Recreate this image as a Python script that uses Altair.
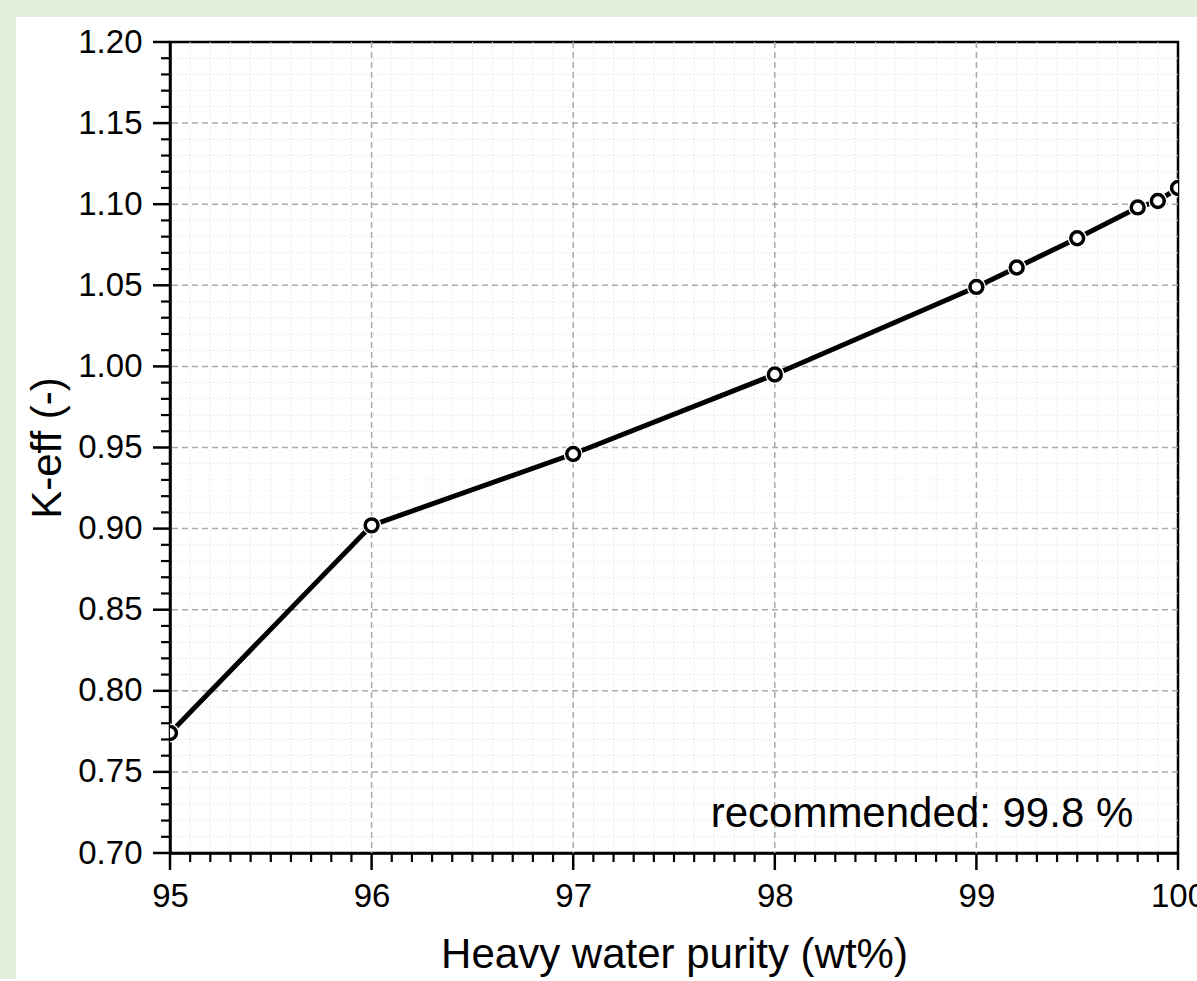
import altair as alt
import pandas as pd

# ---- data ----
purity = [95, 96, 97, 98, 99, 99.2, 99.5, 99.8, 99.9, 100]
keff = [0.774, 0.902, 0.946, 0.995, 1.049, 1.061, 1.079, 1.098, 1.102, 1.110]

x_major = [95, 96, 97, 98, 99, 100]
y_major = [0.70, 0.75, 0.80, 0.85, 0.90, 0.95, 1.00, 1.05, 1.10, 1.15, 1.20]
x_grid = [96, 97, 98, 99]
y_grid = [0.75, 0.80, 0.85, 0.90, 0.95, 1.00, 1.05, 1.10, 1.15]
x_minor = [round(95 + i * 0.1, 2) for i in range(1, 50) if i % 10 != 0]
y_minor = [round(0.70 + i * 0.01, 3) for i in range(1, 50) if i % 5 != 0]

note_text = ["recommended: 99.8 %"]
note_x = [98.73]
note_y = [0.716]

FONT = "Liberation Sans"
W, H = 1008, 811
PL, PT, PR, PB = 170, 42, 19, 126
GREEN = "#e2efda"

xs = alt.Scale(domain=[95, 100], nice=False, zero=False)
ys = alt.Scale(domain=[0.7, 1.2], nice=False, zero=False)

x_axis = alt.Axis(
    values=x_major,
    format="d",
    title="Heavy water purity (wt%)",
    titleY=114,
    titleBaseline="alphabetic",
    ticks=False,
    tickSize=0,
    labelPadding=27,
    labelFlush=False,
)
y_axis = alt.Axis(
    values=y_major,
    format=".2f",
    title="K-eff (-)",
    titleX=-110,
    titleBaseline="alphabetic",
    ticks=False,
    tickSize=0,
    labelPadding=28,
    labelFlush=False,
)

df = pd.DataFrame({"purity": purity, "keff": keff})
one = pd.DataFrame({"a": [0]})

# decorative green frame (outside plot area)
left_strip = alt.Chart(one).mark_rect(color=GREEN, clip=False).encode(
    x=alt.value(-PL), x2=alt.value(-PL + 16), y=alt.value(-PT), y2=alt.value(H + PB + 10)
)
top_strip = alt.Chart(one).mark_rect(color=GREEN, clip=False).encode(
    x=alt.value(-PL), x2=alt.value(W + PR), y=alt.value(-PT), y2=alt.value(-PT + 17)
)

X = lambda f: alt.X(f, scale=xs, axis=x_axis)
Y = lambda f: alt.Y(f, scale=ys, axis=y_axis)

# minor grid (dotted, faint)
minor_vgrid = alt.Chart(pd.DataFrame({"x": x_minor})).mark_rule(
    color="#d9d9d9", strokeWidth=1, strokeDash=[1, 3]
).encode(x=X("x:Q"))
minor_hgrid = alt.Chart(pd.DataFrame({"y": y_minor})).mark_rule(
    color="#d9d9d9", strokeWidth=1, strokeDash=[1, 3]
).encode(y=Y("y:Q"))

# major grid (dashed)
major_vgrid = alt.Chart(pd.DataFrame({"x": x_grid})).mark_rule(
    color="#aaaaaa", strokeWidth=1.5, strokeDash=[6, 4]
).encode(x=X("x:Q"))
major_hgrid = alt.Chart(pd.DataFrame({"y": y_grid})).mark_rule(
    color="#aaaaaa", strokeWidth=1.5, strokeDash=[6, 4]
).encode(y=Y("y:Q"))

# ticks (outward)
x_minor_ticks = alt.Chart(pd.DataFrame({"x": x_minor})).mark_rule(
    color="black", strokeWidth=2.2, clip=False
).encode(x=X("x:Q"), y=alt.value(H), y2=alt.value(H + 9))
y_minor_ticks = alt.Chart(pd.DataFrame({"y": y_minor})).mark_rule(
    color="black", strokeWidth=2.2, clip=False
).encode(y=Y("y:Q"), x=alt.value(-9), x2=alt.value(0))
x_major_ticks = alt.Chart(pd.DataFrame({"x": x_major})).mark_rule(
    color="black", strokeWidth=2.5, clip=False
).encode(x=X("x:Q"), y=alt.value(H), y2=alt.value(H + 17))
y_major_ticks = alt.Chart(pd.DataFrame({"y": y_major})).mark_rule(
    color="black", strokeWidth=2.5, clip=False
).encode(y=Y("y:Q"), x=alt.value(-17), x2=alt.value(0))

line = alt.Chart(df).mark_line(color="black", strokeWidth=5, clip=True).encode(
    x=X("purity:Q"), y=Y("keff:Q")
)

halo = alt.Chart(df).mark_point(
    shape="circle", filled=True, color="white", size=360, opacity=1, clip=True
).encode(x=X("purity:Q"), y=Y("keff:Q"))

points = alt.Chart(df).mark_point(
    shape="circle", filled=False, fill="white", fillOpacity=1, stroke="black",
    strokeWidth=3.5, size=165, opacity=1, clip=True
).encode(x=X("purity:Q"), y=Y("keff:Q"))

note = alt.Chart(pd.DataFrame({"t": note_text, "x": note_x, "y": note_y})).mark_text(
    font=FONT, fontSize=42, color="black", align="center", baseline="alphabetic"
).encode(x=X("x:Q"), y=Y("y:Q"), text="t:N")

chart = alt.layer(
    left_strip, top_strip,
    minor_vgrid, minor_hgrid, major_vgrid, major_hgrid,
    x_minor_ticks, y_minor_ticks, x_major_ticks, y_major_ticks,
    line, halo, points, note,
).properties(
    width=W,
    height=H,
    padding={"left": PL, "top": PT, "right": PR, "bottom": PB},
    autosize=alt.AutoSizeParams(type="none"),
    background="white",
).configure_view(
    stroke="black", strokeWidth=2.5
).configure_axis(
    grid=False,
    domainColor="black",
    domainWidth=2.5,
    labelFont=FONT,
    labelFontSize=33,
    labelColor="black",
    titleFont=FONT,
    titleFontSize=42,
    titleFontWeight="normal",
    titleColor="black",
)

chart.save("out.html", embed_options={"renderer": "svg", "actions": False})
